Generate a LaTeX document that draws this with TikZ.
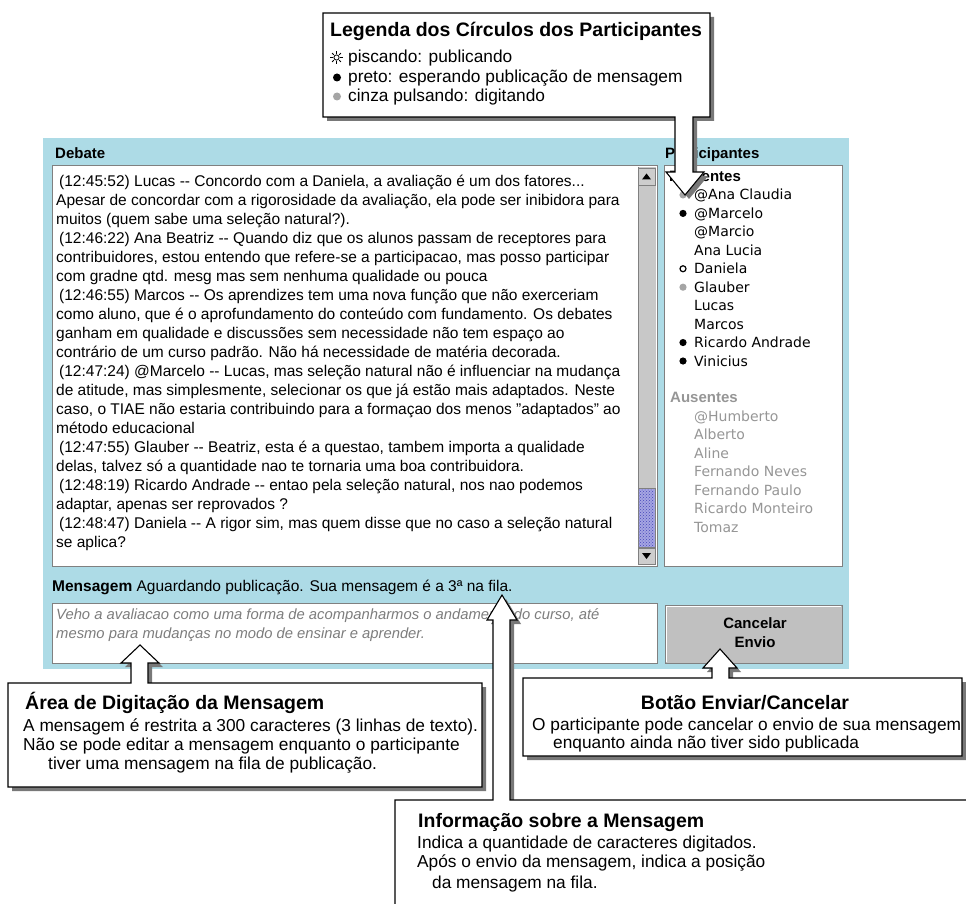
\documentclass[tikz,border=0pt]{standalone}
\usepackage{fontspec}
\setmainfont{Liberation Sans}
\newfontfamily\namefont{DejaVu Sans}
\usetikzlibrary{patterns,calc}

\definecolor{panelblue}{RGB}{173,219,230}
\definecolor{framegray}{RGB}{128,128,128}
\definecolor{shadowgray}{RGB}{120,120,120}
\definecolor{trackgray}{RGB}{200,200,200}
\definecolor{btngray}{RGB}{192,192,192}
\definecolor{thumbblue}{RGB}{165,165,226}
\definecolor{absentgray}{RGB}{150,150,150}
\definecolor{hintgray}{RGB}{125,125,125}
\definecolor{typinggray}{RGB}{165,165,165}

% callout outline: grey drop shadow, then white body with black border
\newcommand\calloutshape[1]{%
  \fill[shadowgray, shift={(4,4)}] #1;
  \filldraw[fill=white, draw=black, line width=1.1pt, line join=miter] #1;}

\begin{document}
\begin{tikzpicture}[x=1pt, y=-1pt,
  lbl/.style={font=\fontsize{15}{18}\selectfont\bfseries, anchor=base west, inner sep=0pt},
  dtext/.style={font=\fontsize{15.5}{18}\selectfont, anchor=base west, inner sep=0pt},
  pname/.style={font=\namefont\fontsize{14}{17}\selectfont, anchor=base west, inner sep=0pt},
  phead/.style={font=\fontsize{15}{18}\selectfont\bfseries, anchor=base west, inner sep=0pt},
  ctitle/.style={font=\fontsize{19.5}{22}\selectfont\bfseries, anchor=base west, inner sep=0pt},
  cbody/.style={font=\fontsize{17.3}{20}\selectfont, anchor=base west, inner sep=0pt},
  sunken/.style={fill=white, draw=framegray, line width=1pt},
  sbtn/.style={fill=btngray!80!white, draw=framegray, line width=0.8pt}]

\useasboundingbox (0,0) rectangle (966,904);
\fill[white] (0,0) rectangle (966,904);
\clip (0,0) rectangle (966,904);

% ---- window panel ----
\fill[panelblue] (43,138) rectangle (849,669);

% debate area
\node[lbl] (debatelbl) at (55,159) {Debate};
\draw[sunken] (52,166) rectangle (657,566);
\fill[trackgray] (638,167) rectangle (656,565);
\draw[framegray, line width=0.6pt] (638,167) -- (638,565);
\draw[sbtn] (638,168) rectangle (655,185);
\fill[black] (642,179.5) -- (651,179.5) -- (646.5,173.5) -- cycle;
\filldraw[fill=thumbblue, draw=framegray, line width=0.6pt] (638,488) rectangle (655,547);
\fill[pattern=crosshatch dots, pattern color=blue!45!gray] (639,489) rectangle (654,546);
\draw[sbtn] (638,548) rectangle (655,564);
\fill[black] (642,553) -- (651,553) -- (646.5,559) -- cycle;

\foreach \t [count=\i] in {
  {\hspace*{3pt}(12:45:52) Lucas -{}- Concordo com a Daniela, a avaliação é um dos fatores.{}.{}.},
  {Apesar de concordar com a rigorosidade da avaliação, ela pode ser inibidora para},
  {muitos (quem sabe uma seleção natural?).},
  {\hspace*{3pt}(12:46:22) Ana Beatriz -{}- Quando diz que os alunos passam de receptores para},
  {contribuidores, estou entendo que refere-se a participacao, mas posso participar},
  {com gradne qtd. mesg mas sem nenhuma qualidade ou pouca},
  {\hspace*{3pt}(12:46:55) Marcos -{}- Os aprendizes tem uma nova função que não exerceriam},
  {como aluno, que é o aprofundamento do conteúdo com fundamento. Os debates},
  {ganham em qualidade e discussões sem necessidade não tem espaço ao},
  {contrário de um curso padrão. Não há necessidade de matéria decorada.},
  {\hspace*{3pt}(12:47:24) @Marcelo -{}- Lucas, mas seleção natural não é influenciar na mudança},
  {de atitude, mas simplesmente, selecionar os que já estão mais adaptados. Neste},
  {caso, o TIAE não estaria contribuindo para a formaçao dos menos "adaptados" ao},
  {método educacional},
  {\hspace*{3pt}(12:47:55) Glauber -{}- Beatriz, esta é a questao, tambem importa a qualidade},
  {delas, talvez só a quantidade nao te tornaria uma boa contribuidora.},
  {\hspace*{3pt}(12:48:19) Ricardo Andrade -{}- entao pela seleção natural, nos nao podemos},
  {adaptar, apenas ser reprovados ?},
  {\hspace*{3pt}(12:48:47) Daniela -{}- A rigor sim, mas quem disse que no caso a seleção natural},
  {se aplica?}}
  \node[dtext] (d\i) at (56,{186+19.0*(\i-1)}) {\t};

% participants list
\node[lbl] (partlbl) at (665,159) {Participantes};
\draw[sunken] (664,166) rectangle (842,566);
\node[phead] (presentes) at (669,181.5) {Presentes};
\foreach \n [count=\i] in {@Ana Claudia, @Marcelo, @Marcio, Ana Lucia, Daniela,
    Glauber, Lucas, Marcos, Ricardo Andrade, Vinicius}
  \node[pname] (p\i) at (694,{181.5+18.45*\i}) {\n};
\node[phead, text=absentgray] (ausentes) at (670,{181.5+18.45*12}) {Ausentes};
\foreach \n [count=\i] in {@Humberto, Alberto, Aline, Fernando Neves, Fernando Paulo,
    Ricardo Monteiro, Tomaz}
  \node[pname, text=absentgray] (a\i) at (694,{181.5+18.45*(12+\i)}) {\n};
% status circles
\fill[typinggray] (683,{176.5+18.45*1}) circle (3.6);
\fill[black] (683,{176.5+18.45*2}) circle (3.6);
\filldraw[fill=white, draw=black, line width=1.2pt] (683,{176.5+18.45*5}) circle (3);
\fill[typinggray] (683,{176.5+18.45*6}) circle (3.6);
\fill[black] (683,{176.5+18.45*9}) circle (3.6);
\fill[black] (683,{176.5+18.45*10}) circle (3.6);

% message row
\node[dtext] (msglbl) at (52,591) {\textbf{Mensagem} Aguardando publicação. Sua mensagem é a 3ª na fila.};
\draw[sunken] (52,603) rectangle (657,663);
\node[dtext, font=\fontsize{14.8}{18}\selectfont\itshape, text=hintgray] (msg1) at (56,619)
  {Veho a avaliacao como uma forma de acompanharmos o andamento do curso, até};
\node[dtext, font=\fontsize{14.8}{18}\selectfont\itshape, text=hintgray] (msg2) at (56,638)
  {mesmo para mudanças no modo de ensinar e aprender.};

% cancel button
\filldraw[fill=btngray, draw=framegray, line width=1pt] (665,605) rectangle (842,663);
\draw[white, line width=1pt] (666.5,661.5) -- (666.5,606.5) -- (840.5,606.5);
\node[lbl, anchor=base] (cancel1) at (755,628) {Cancelar};
\node[lbl, anchor=base] (cancel2) at (755,647) {Envio};

% ---- callouts ----
\calloutshape{(323,13) -- (710,13) -- (710,117) -- (693,117) -- (693,172) -- (704,172)
  -- (685,195) -- (666,172) -- (675,172) -- (675,117) -- (323,117) -- cycle}
\calloutshape{(8,683) -- (131,683) -- (131,663) -- (121,663) -- (140,645) -- (159,663)
  -- (148,663) -- (148,683) -- (482,683) -- (482,787) -- (8,787) -- cycle}
\calloutshape{(523,678) -- (712,678) -- (712,668) -- (703,668) -- (720,649) -- (737,668)
  -- (729,668) -- (729,678) -- (962,678) -- (962,756) -- (523,756) -- cycle}
\calloutshape{(395,930) -- (395,800) -- (493,800) -- (493,620) -- (487,620) -- (502,595)
  -- (517,620) -- (510,620) -- (510,800) -- (990,800) -- (990,930) -- cycle}

% legend
\node[ctitle] (legtitle) at (330,37) {Legenda dos Círculos dos Participantes};
\draw[line width=0.8pt] (336.5,57.5) circle (2.6);
\foreach \a in {0,45,...,315}
  \draw[line width=0.8pt] ($(336.5,57.5)+(\a:3.8)$) -- ($(336.5,57.5)+(\a:6.3)$);
\node[cbody] (legsun) at (348,63) {piscando: publicando};
\fill[black] (337,77.5) circle (4);
\node[cbody] (legblack) at (348,83) {preto: esperando publicação de mensagem};
\fill[typinggray] (337,96.5) circle (4);
\node[cbody] (leggray) at (348,102) {cinza pulsando: digitando};

% typing area note
\node[ctitle] (areatitle) at (25,709) {Área de Digitação da Mensagem};
\node[cbody] (area1) at (23,731) {A mensagem é restrita a 300 caracteres (3 linhas de texto).};
\node[cbody] (area2) at (23,750) {Não se pode editar a mensagem enquanto o participante};
\node[cbody] (area3) at (48,769) {tiver uma mensagem na fila de publicação.};

% send/cancel note
\node[ctitle, anchor=base] (btntitle) at (745,709) {Botão Enviar/Cancelar};
\node[cbody] (btn1) at (532,730) {O participante pode cancelar o envio de sua mensagem};
\node[cbody] (btn2) at (553,748) {enquanto ainda não tiver sido publicada};

% message info note
\node[ctitle] (infotitle) at (418,827) {Informação sobre a Mensagem};
\node[cbody] (info1) at (417,848) {Indica a quantidade de caracteres digitados.};
\node[cbody] (info2) at (417,867) {Após o envio da mensagem, indica a posição};
\node[cbody] (info3) at (432,888) {da mensagem na fila.};
\end{tikzpicture}
\end{document}
